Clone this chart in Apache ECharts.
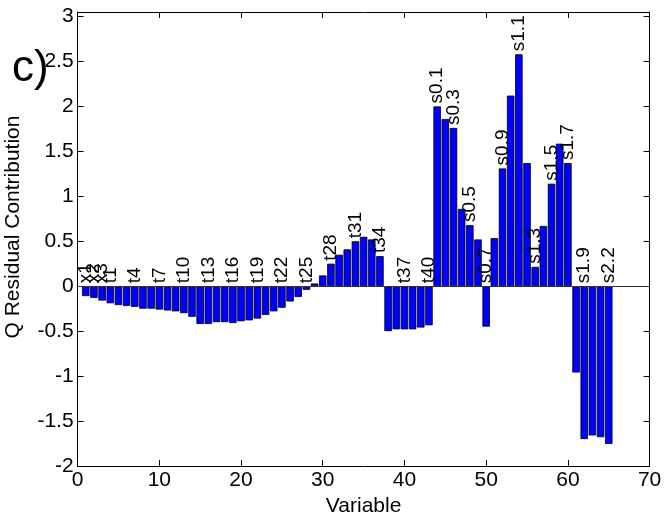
<!DOCTYPE html>
<html><head><meta charset="utf-8">
<script src="https://cdn.jsdelivr.net/npm/echarts@6/dist/echarts.min.js"></script>
<style>html,body{margin:0;padding:0;background:#fff}#c{width:665px;height:516px}</style>
</head><body><div id="c"></div>
<script>
const variables = [1,2,3,4,5,6,7,8,9,10,11,12,13,14,15,16,17,18,19,20,21,22,23,24,25,26,27,28,29,30,31,32,33,34,35,36,37,38,39,40,41,42,43,44,45,46,47,48,49,50,51,52,53,54,55,56,57,58,59,60,61,62,63,64,65];
const values = [-0.11,-0.13,-0.16,-0.19,-0.21,-0.22,-0.23,-0.25,-0.25,-0.26,
  -0.27,-0.28,-0.30,-0.34,-0.42,-0.42,-0.40,-0.40,-0.41,-0.39,
  -0.38,-0.36,-0.32,-0.28,-0.24,-0.17,-0.12,-0.04,0.03,0.12,
  0.25,0.35,0.41,0.50,0.55,0.52,0.335,-0.50,-0.48,-0.48,
  -0.48,-0.46,-0.435,2.00,1.86,1.76,0.86,0.68,0.52,-0.45,
  0.535,1.31,2.12,2.58,1.37,0.215,0.67,1.14,1.585,1.37,
  -0.96,-1.70,-1.66,-1.68,-1.755];
const labelVars = [1,2,3,4,7,10,13,16,19,22,25,28,31,34,37,40,43,44,46,48,50,52,54,56,58,60,62,65];
const labelTexts = ["x1","x2","x3","t1","t4","t7","t10","t13","t16","t19","t22","t25","t28","t31","t34","t37","t40","s0.1","s0.3","s0.5","s0.7","s0.9","s1.1","s1.3","s1.5","s1.7","s1.9","s2.2"];
const xTicks = [0,10,20,30,40,50,60,70];
const yTicks = [-2,-1.5,-1,-0.5,0,0.5,1,1.5,2,2.5,3];

const FONT = '"Liberation Sans", Arial, sans-serif';
const chart = echarts.init(document.getElementById('c'), null, {renderer:'canvas'});
const barData = variables.map((x,i)=>[x, values[i]]);
const labelData = labelVars.map((x,i)=>[x, Math.max(values[x-1],0), labelTexts[i]]);
const axisCommon = {
  axisLine:{show:true, onZero:false, lineStyle:{color:'#000', width:1}},
  axisTick:{show:true, inside:true, length:6, lineStyle:{color:'#000'}},
  splitLine:{show:false}
};
chart.setOption({
  animation:false,
  backgroundColor:'#fff',
  grid:{left:77.6, right:15.4, top:12, bottom:50, containLabel:false, outerBoundsMode:'none'},
  xAxis:[
    Object.assign({type:'value', min:0, max:70, interval:10, position:'bottom',
      name:'Variable', nameLocation:'middle', nameGap:26,
      nameTextStyle:{fontSize:21, color:'#000', fontFamily:FONT},
      axisLabel:{fontSize:21, color:'#000', fontFamily:FONT, margin:4,
        customValues: xTicks}}, axisCommon),
    Object.assign({type:'value', min:0, max:70, interval:10, position:'top',
      axisLabel:{show:false}}, axisCommon)
  ],
  yAxis:[
    Object.assign({type:'value', min:-2, max:3.05, interval:0.5, position:'left',
      name:'Q Residual Contribution', nameLocation:'middle', nameGap:54,
      nameTextStyle:{fontSize:21, color:'#000', fontFamily:FONT, padding:[0,0,0,24]},
      axisLabel:{fontSize:21, color:'#000', fontFamily:FONT, margin:4,
        customValues: yTicks}}, axisCommon),
    Object.assign({type:'value', min:-2, max:3.05, interval:0.5, position:'right',
      axisLabel:{show:false}}, axisCommon)
  ],
  series:[
    {type:'bar', data:barData, barWidth:7.5, xAxisIndex:0, yAxisIndex:0,
      itemStyle:{color:'#0000FF', borderColor:'#000', borderWidth:0.8},
      markLine:{silent:true, symbol:'none', label:{show:false},
        lineStyle:{color:'#333', width:1, type:'solid'}, data:[{yAxis:0}]}},
    {type:'scatter', data:labelData, symbolSize:0, xAxisIndex:0, yAxisIndex:0,
      label:{show:true, position:'top', distance:3, rotate:90, align:'left', verticalAlign:'middle',
        fontSize:19, color:'#000', textBorderWidth:0, opacity:1, fontFamily:FONT, formatter:p=>p.data[2]}}
  ],
  graphic:[{type:'text', left:12, top:47, style:{text:'c)', fontSize:44, fill:'#000', fontFamily:FONT}}]
});
</script></body></html>
